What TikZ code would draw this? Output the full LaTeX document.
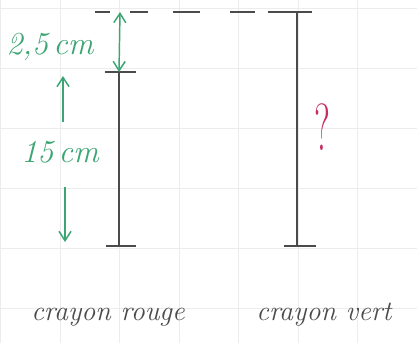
\documentclass[tikz,border=0pt]{standalone}
\usepackage{tikz}
\usetikzlibrary{arrows.meta}

\definecolor{pencilgreen}{RGB}{60,165,115}
\definecolor{pencilred}{RGB}{200,45,95}
\definecolor{pencilgray}{RGB}{75,75,75}
\definecolor{gridgray}{RGB}{236,236,236}

\tikzset{
  grid/.style={gridgray,line width=0.6pt},
  crayon/.style={pencilgray,line width=1.3pt},
  measure/.style={pencilgreen,line width=1.1pt},
  hand/.style={font=\itshape\fontsize{21}{21}\selectfont,pencilgray}
}

\begin{document}
\begin{tikzpicture}[x=0.75pt,y=-0.75pt,>={Straight Barb[length=7pt,width=9pt]}]
  \useasboundingbox[fill=white] (0,0) rectangle (417,343);
  % quadrillage
  \foreach \k in {0,...,7}
    \draw[grid] (0.5+59.5*\k,0) -- ++(0,343);
  \foreach \k in {0,...,5}
    \draw[grid] (0,8+60*\k) -- ++(417,0);

  % ligne du haut
  \foreach \a/\b in {95/110,130/148,173/200,230/255,268/282}
    \draw[pencilgray,line width=1pt] (\a,12) -- (\b,12);

  % crayon rouge
  \coordinate (rtop) at (119,72);
  \coordinate (rbot) at (119,246);
  \draw[crayon] (rtop) -- (rbot);
  \draw[crayon] (105,72) -- (136,72);
  \draw[crayon] (106,246) -- (136,246);

  % crayon vert
  \coordinate (vtop) at (297,12);
  \coordinate (vbot) at (297,246);
  \draw[crayon] (vtop) -- (vbot);
  \draw[crayon] (282,12) -- (312,12);
  \draw[crayon] (284,246) -- (316,246);

  % mesures
  \coordinate (htop) at (120,12);
  \draw[measure,<->] (htop) -- (rtop);
  \node[measure,font=\itshape\fontsize{24}{24}\selectfont] (petit) at (50,47) {2,5\,cm};
  \node[measure,font=\itshape\fontsize{24}{24}\selectfont] (grand) at (60,152) {15\,cm};
  \draw[measure,->] (63,122) -- (63,76);
  \draw[measure,->] (65,187) -- (65,242);

  \node[pencilred,font=\fontsize{50}{50}\selectfont,xscale=0.55] (question) at (322,127) {?};

  % legendes
  \node[hand,anchor=base] (rouge) at (108,320) {crayon rouge};
  \node[hand,anchor=base] (vert) at (324,320) {crayon vert};
\end{tikzpicture}
\end{document}
